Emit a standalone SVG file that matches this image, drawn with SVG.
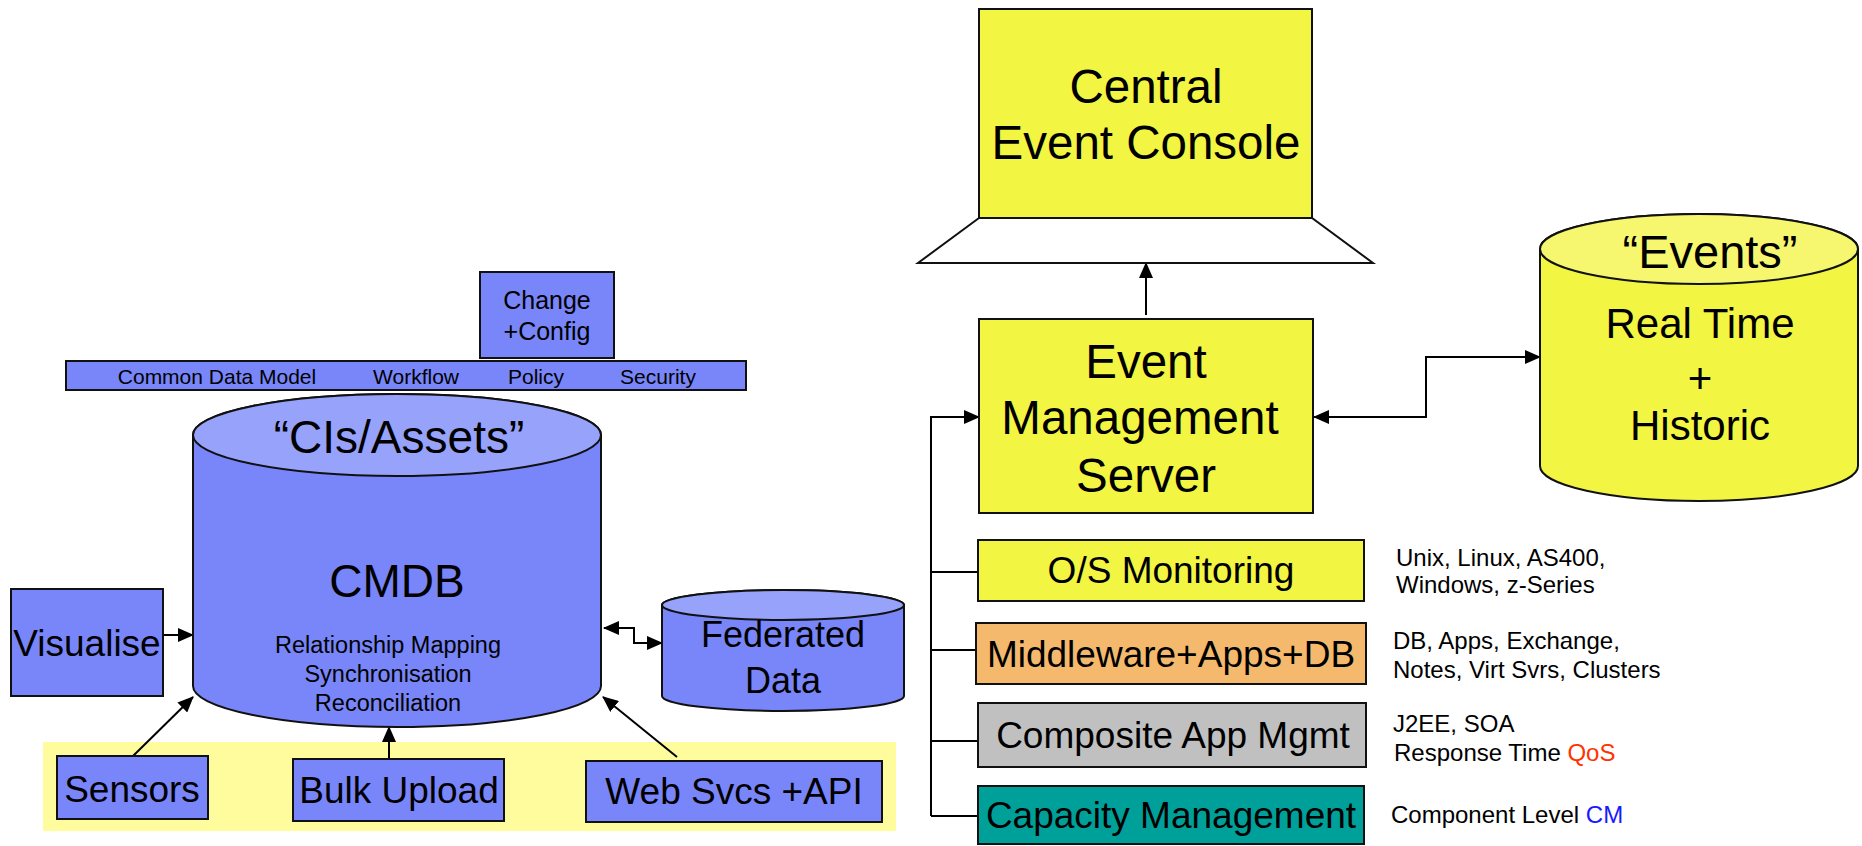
<svg xmlns="http://www.w3.org/2000/svg" width="1862" height="846" viewBox="0 0 1862 846">
  <defs>
    <style>
      text { font-family: "Liberation Sans", Arial, sans-serif; fill: #000; text-anchor: middle; }
      .blue { fill: #7886f9; stroke: #111; stroke-width: 2; }
      .blue-top { fill: #97a2fb; stroke: #111; stroke-width: 2; }
      .yel { fill: #f2f542; stroke: #111; stroke-width: 2; }
      .yel-top { fill: #f6f76e; stroke: #111; stroke-width: 2; }
      .org { fill: #f5b96d; stroke: #111; stroke-width: 2; }
      .gry { fill: #c0c0c0; stroke: #111; stroke-width: 2; }
      .teal { fill: #00a09a; stroke: #111; stroke-width: 2; }
      .wire { fill: none; stroke: #000; stroke-width: 2; }
      .arr { marker-end: url(#head); }
      .arr2 { marker-start: url(#head); marker-end: url(#head); }
      .side { text-anchor: start; font-size: 24px; }
    </style>
    <marker id="head" viewBox="0 0 16 14" refX="15" refY="7" markerWidth="16" markerHeight="14" markerUnits="userSpaceOnUse" orient="auto-start-reverse">
      <path d="M0,0 L16,7 L0,14 z" fill="#000"/>
    </marker>
  </defs>

  <rect width="1862" height="846" fill="#fff"/>

  <!-- source band behind the feeder boxes -->
  <rect id="feed-band" x="43" y="742" width="853" height="89" fill="#fffc9d"/>

  <!-- connectors -->
  <g id="connectors">
    <path class="wire arr" d="M163,635 H193"/>
    <path class="wire arr2" d="M604,628 H634 V643 H662"/>
    <path class="wire arr" d="M133,756 L193,697"/>
    <path class="wire arr" d="M389,759 V727"/>
    <path class="wire arr" d="M677,757 L603,697"/>
    <path class="wire arr" d="M1146,315 V263"/>
    <path class="wire arr2" d="M1314,417 H1426 V357 H1540"/>
    <path class="wire arr" d="M931,816 V417 H979"/>
    <path class="wire" d="M931,572 H978"/>
    <path class="wire" d="M931,650 H976"/>
    <path class="wire" d="M931,741 H978"/>
    <path class="wire" d="M931,816 H978"/>
  </g>

  <g id="change-config">
    <rect class="blue" x="480" y="272" width="134" height="86"/>
    <text x="547" y="309" font-size="25">Change</text>
    <text x="547" y="340" font-size="25">+Config</text>
  </g>

  <g id="services-bar">
    <rect class="blue" x="66" y="361" width="680" height="29"/>
    <text x="217" y="384" font-size="21">Common Data Model</text>
    <text x="416" y="384" font-size="21">Workflow</text>
    <text x="536" y="384" font-size="21">Policy</text>
    <text x="658" y="384" font-size="21">Security</text>
  </g>

  <g id="cmdb">
    <path class="blue" d="M193,435 V686 A204,41 0 0 0 601,686 V435 A204,41 0 0 0 193,435 Z"/>
    <ellipse class="blue-top" cx="397" cy="435" rx="204" ry="41"/>
    <text x="399" y="453" font-size="46">“CIs/Assets”</text>
    <text x="397" y="597" font-size="46">CMDB</text>
    <text x="388" y="653" font-size="23.5">Relationship Mapping</text>
    <text x="388" y="682" font-size="23.5">Synchronisation</text>
    <text x="388" y="711" font-size="23.5">Reconciliation</text>
  </g>

  <g id="visualise">
    <rect class="blue" x="11" y="589" width="152" height="107"/>
    <text x="87" y="656" font-size="37">Visualise</text>
  </g>

  <g id="federated">
    <path class="blue" d="M662,605 V696 A121,15 0 0 0 904,696 V605 A121,15 0 0 0 662,605 Z"/>
    <ellipse class="blue-top" cx="783" cy="605" rx="121" ry="15"/>
    <text x="783" y="647" font-size="36">Federated</text>
    <text x="783" y="693" font-size="36">Data</text>
  </g>

  <g id="sensors">
    <rect class="blue" x="57" y="756" width="151" height="63"/>
    <text x="132" y="802" font-size="37">Sensors</text>
  </g>

  <g id="bulk-upload">
    <rect class="blue" x="293" y="759" width="211" height="62"/>
    <text x="399" y="803" font-size="37">Bulk Upload</text>
  </g>

  <g id="web-services">
    <rect class="blue" x="586" y="761" width="296" height="61"/>
    <text x="734" y="804" font-size="37">Web Svcs +API</text>
  </g>

  <g id="console">
    <path d="M979,218 L918,263 H1373 L1312,218 Z" fill="#fff" stroke="#111" stroke-width="2"/>
    <rect class="yel" x="979" y="9" width="333" height="209"/>
    <text x="1146" y="103" font-size="47.5">Central</text>
    <text x="1146" y="159" font-size="47.5">Event Console</text>
  </g>

  <g id="event-server">
    <rect class="yel" x="979" y="319" width="334" height="194"/>
    <text x="1146" y="378" font-size="47.5">Event</text>
    <text x="1140" y="434" font-size="47.5">Management</text>
    <text x="1146" y="492" font-size="47.5">Server</text>
  </g>

  <g id="events-store">
    <path class="yel" d="M1540,249 V466 A159,35 0 0 0 1858,466 V249 A159,35 0 0 0 1540,249 Z"/>
    <ellipse class="yel-top" cx="1699" cy="249" rx="159" ry="35"/>
    <text x="1710" y="268" font-size="47">“Events”</text>
    <text x="1700" y="338" font-size="42">Real Time</text>
    <text x="1700" y="393" font-size="42">+</text>
    <text x="1700" y="440" font-size="42">Historic</text>
  </g>

  <g id="os-monitoring">
    <rect class="yel" x="978" y="540" width="386" height="61"/>
    <text x="1171" y="583" font-size="37">O/S Monitoring</text>
    <text class="side" x="1396" y="566">Unix, Linux, AS400,</text>
    <text class="side" x="1396" y="593">Windows, z-Series</text>
  </g>

  <g id="middleware">
    <rect class="org" x="976" y="623" width="390" height="61"/>
    <text x="1171" y="667" font-size="37">Middleware+Apps+DB</text>
    <text class="side" x="1393" y="649">DB, Apps, Exchange,</text>
    <text class="side" x="1393" y="678">Notes, Virt Svrs, Clusters</text>
  </g>

  <g id="composite-app">
    <rect class="gry" x="978" y="703" width="388" height="64"/>
    <text x="1173" y="748" font-size="37">Composite App Mgmt</text>
    <text class="side" x="1393" y="732">J2EE, SOA</text>
    <text class="side" x="1394" y="761">Response Time <tspan fill="#ff3300">QoS</tspan></text>
  </g>

  <g id="capacity">
    <rect class="teal" x="978" y="786" width="386" height="58"/>
    <text x="1171" y="828" font-size="37">Capacity Management</text>
    <text class="side" x="1391" y="823">Component Level <tspan fill="#1a1aff">CM</tspan></text>
  </g>
</svg>
